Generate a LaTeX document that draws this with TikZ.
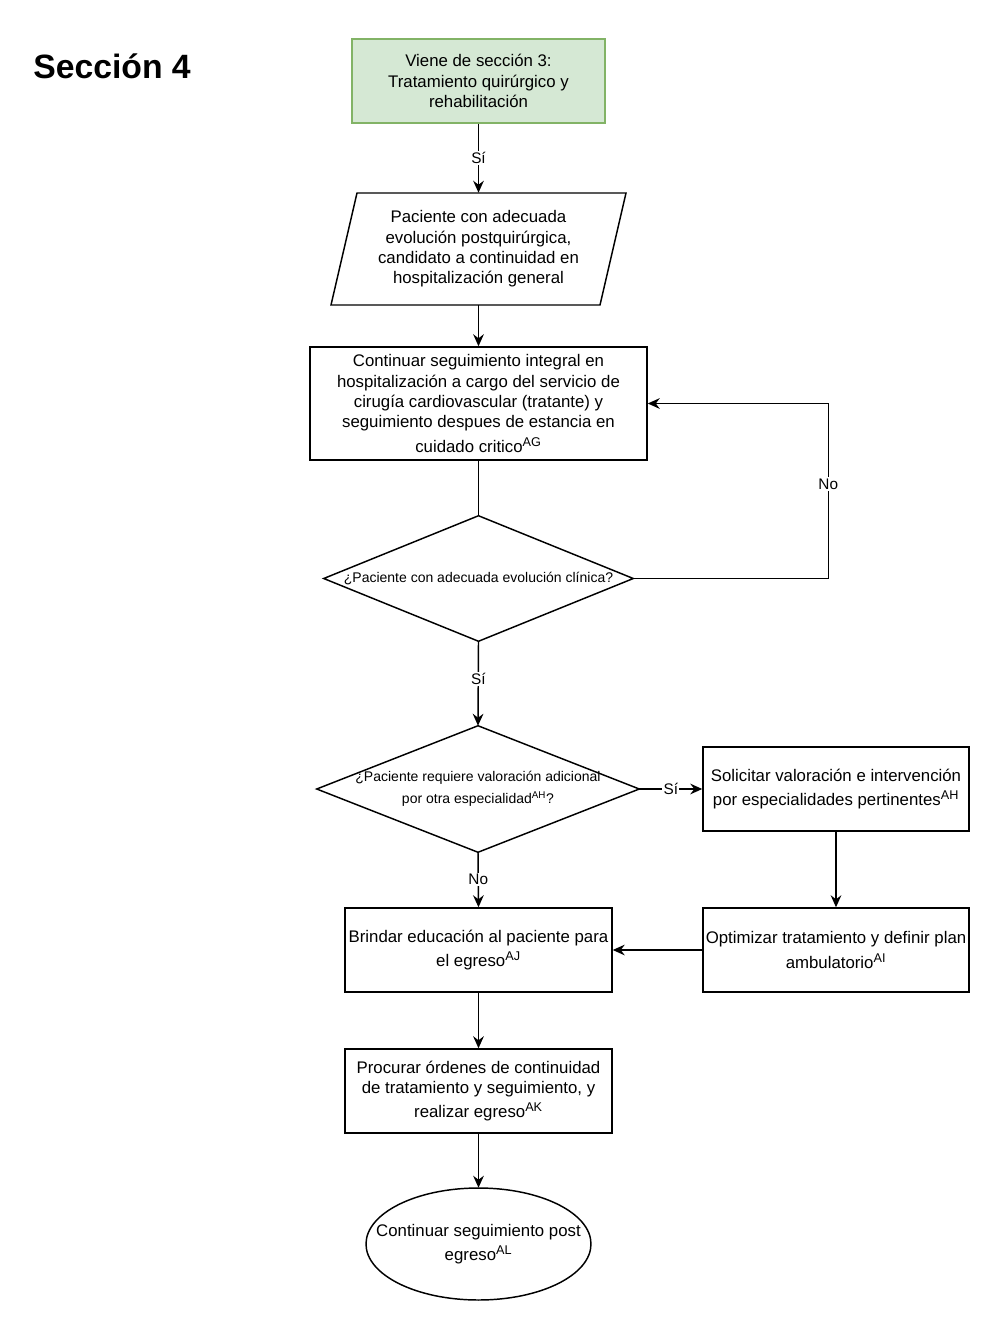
\documentclass[tikz,border=0pt]{standalone}
\usepackage{fontspec}
\setmainfont{Liberation Sans}
\usetikzlibrary{arrows.meta,calc,shapes.geometric}
\definecolor{gfill}{HTML}{D5E8D4}
\definecolor{gdraw}{HTML}{82B366}
\newcommand{\sups}[1]{\textsuperscript{\fontsize{9.5}{10}\selectfont #1}}
\begin{document}
\begin{tikzpicture}[x=0.75pt,y=-0.75pt,
  txt/.style={rectangle,align=center,inner sep=1pt,font=\fontsize{12.6}{15.2}\selectfont},
  box/.style={txt,draw=black,line width=1.1pt},
  dtxt/.style={rectangle,align=center,inner sep=0pt,font=\fontsize{10.5}{16.5}\selectfont},
  shp/.style={draw=black,line width=1.1pt},
  arr/.style={draw=black,line width=1.1pt,-{Stealth[length=9pt,width=8pt,inset=3pt]}},
  plain/.style={draw=black,line width=1.1pt},
  lbl/.style={fill=white,inner sep=1pt,font=\fontsize{11.5}{13}\selectfont}]
\useasboundingbox (0,0) rectangle (1002,1334);

\node[anchor=west,inner sep=0pt,font=\fontsize{25.3}{30}\selectfont\bfseries] (title) at (33,66) {Sección 4};

\node[box,fill=gfill,draw=gdraw,minimum width=189.75pt,minimum height=63pt] (start) at (478.5,81)
  {Viene de sección 3:\\Tratamiento quirúrgico y\\rehabilitación};

\node[txt,minimum width=180pt,minimum height=84pt] (p) at (478.5,249)
  {Paciente con adecuada\\evolución postquirúrgica,\\candidato a continuidad en\\hospitalización general};
\draw[shp] ($(p.center)+(-121.5,-56)$) -- ($(p.center)+(147.5,-56)$) -- ($(p.center)+(121.5,56)$) -- ($(p.center)+(-147.5,56)$) -- cycle;

\node[box,minimum width=252.75pt,minimum height=84.75pt] (b2) at (478.5,403.5)
  {Continuar seguimiento integral en\\hospitalización a cargo del servicio de\\cirugía cardiovascular (tratante) y\\seguimiento despues de estancia en\\[3pt]cuidado critico\sups{AG}};

\node[dtxt,minimum width=231.75pt,minimum height=93.75pt] (d1) at (478.5,578.5)
  {¿Paciente con adecuada evolución clínica?};
\draw[shp] (d1.north) -- (d1.east) -- (d1.south) -- (d1.west) -- cycle;

\node[dtxt,minimum width=241.5pt,minimum height=94.5pt] (d2) at (478,789)
  {¿Paciente requiere valoración adicional\\por otra especialidad\textsuperscript{AH}?};
\draw[shp] (d2.north) -- (d2.east) -- (d2.south) -- (d2.west) -- cycle;

\node[box,minimum width=199.5pt,minimum height=63pt] (b3) at (836,789)
  {Solicitar valoración e intervención\\[3pt]por especialidades pertinentes\sups{AH}};
\node[box,minimum width=199.5pt,minimum height=63pt] (b4) at (836,950)
  {Optimizar tratamiento y definir plan\\[3pt]ambulatorio\sups{AI}};
\node[box,minimum width=200.25pt,minimum height=63pt] (b5) at (478.5,950)
  {Brindar educación al paciente para\\[3pt]el egreso\sups{AJ}};
\node[box,minimum width=200.25pt,minimum height=63pt] (b6) at (478.5,1091)
  {Procurar órdenes de continuidad\\de tratamiento y seguimiento, y\\[3pt]realizar egreso\sups{AK}};

\node[txt,minimum width=168.75pt,minimum height=84pt] (end) at (478.5,1244)
  {Continuar seguimiento post\\[3pt]egreso\sups{AL}};
\draw[shp] (end.center) ellipse [x radius=84.375pt,y radius=42pt];

\draw[arr] (start) -- node[lbl]{Sí} (p.north);
\draw[arr] (p.south) -- (b2);
\draw[plain] (b2) -- (d1.north);
\draw[arr] (d1.east) -- ++(195,0) |- node[lbl,pos=0.27]{No} (b2.east);
\draw[arr] (d1.south) -- node[lbl,pos=0.45]{Sí} (d2.north);
\draw[arr] (d2.east) -- node[lbl]{Sí} (b3.west);
\draw[arr] (d2.south) -- node[lbl]{No} (b5.north);
\draw[arr] (b3) -- (b4);
\draw[arr] (b4) -- (b5);
\draw[arr] (b5) -- (b6);
\draw[arr] (b6) -- (end.north);
\end{tikzpicture}
\end{document}
